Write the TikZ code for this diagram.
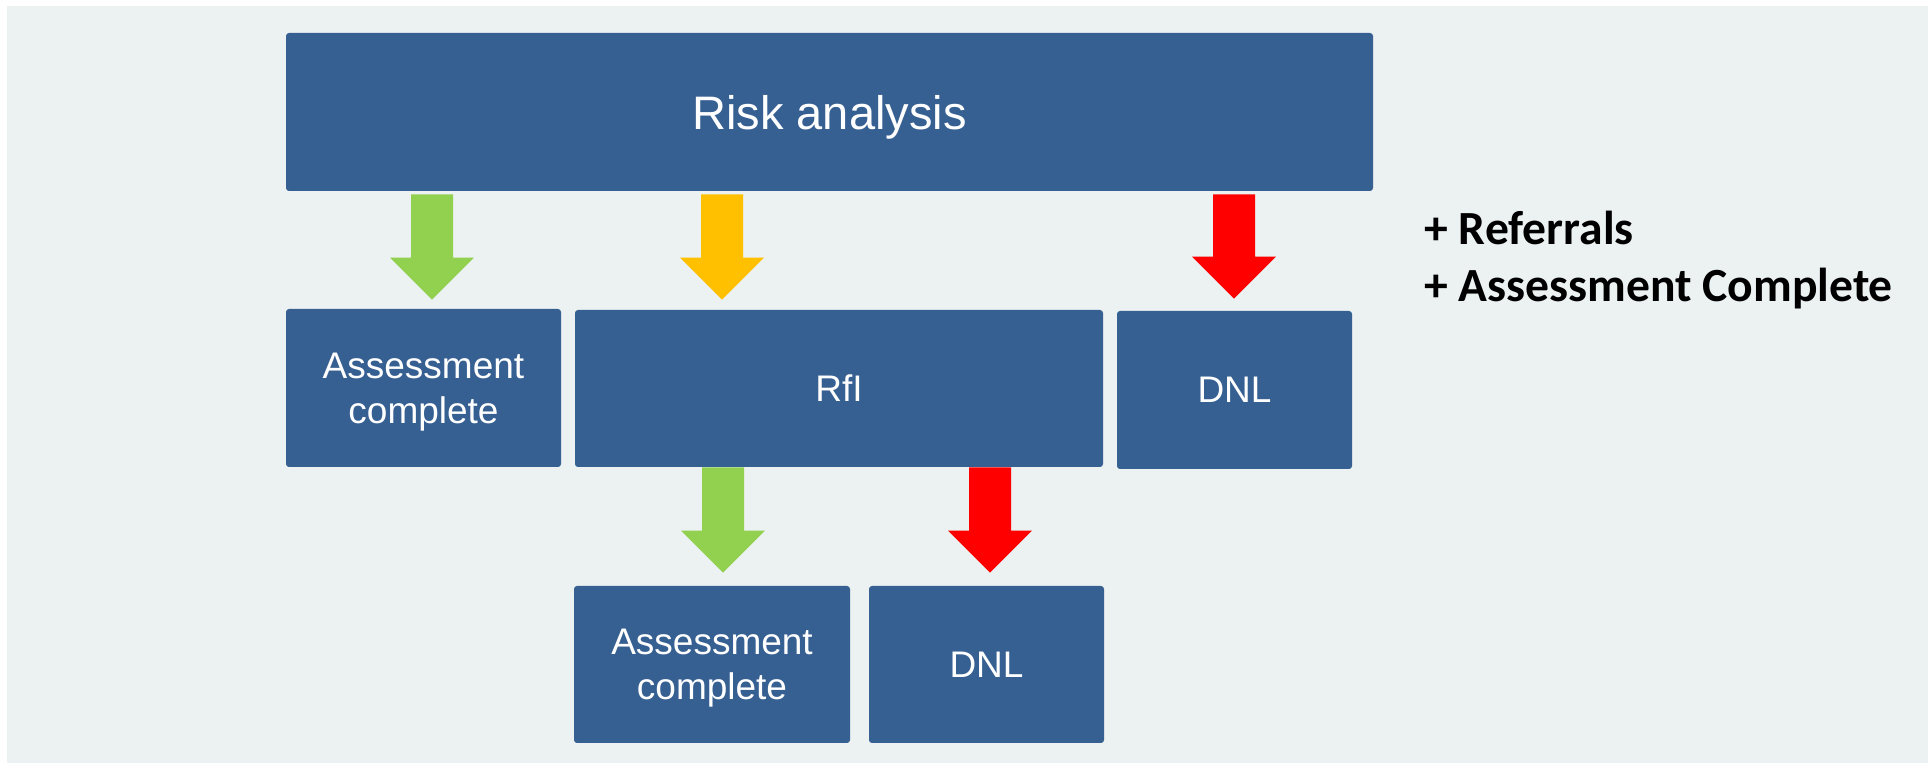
\documentclass[tikz,border=0pt]{standalone}
\usepackage{fontspec}
\setmainfont{Liberation Sans}
\newfontfamily\calibri{Carlito}
\usetikzlibrary{calc}
\definecolor{bg}{HTML}{ECF1F1}
\definecolor{boxblue}{HTML}{376092}
\definecolor{agreen}{HTML}{92D050}
\definecolor{ayellow}{HTML}{FFC000}
\definecolor{ared}{HTML}{FF0000}
\tikzset{
  boxnode/.style={fill=boxblue, rounded corners=1.5pt, inner sep=0pt, text=white,
    align=center, text depth=0pt, font=\fontsize{18.5}{22.5}\selectfont},
  sidetext/.style={anchor=base west, inner sep=0pt, text=black,
    font=\calibri\bfseries\fontsize{23.8}{28}\selectfont}
}
% colour, x-coordinate, from node, to node, start offset, tip gap
\newcommand\fatarrow[6]{%
  \fill[#1] ($(#3.south -| #2)+(-21,#5)$) -- ($(#3.south -| #2)+(21,#5)$)
    -- ($(#4.north -| #2)+(21,-#6-42)$) -- ($(#4.north -| #2)+(42,-#6-42)$)
    -- ($(#4.north -| #2)+(0,-#6)$) -- ($(#4.north -| #2)+(-42,-#6-42)$)
    -- ($(#4.north -| #2)+(-21,-#6-42)$) -- cycle;}
\begin{document}
\begin{tikzpicture}[x=0.5pt,y=-0.5pt]
\useasboundingbox (0,0) rectangle (1928,763);
\fill[white] (0,0) rectangle (1928,763);
\fill[bg] (7,6) rectangle (1928,763);

\node[boxnode, minimum width=543.5pt, minimum height=79pt, font=\fontsize{23.5}{28}\selectfont]
  (risk) at (829.5,112) {Risk analysis};
\node[boxnode, minimum width=137.5pt, minimum height=79pt] (ac1) at (423.5,388) {Assessment\\complete};
\node[boxnode, minimum width=264pt, minimum height=78.5pt] (rfi) at (839,388.5) {RfI};
\node[boxnode, minimum width=117.5pt, minimum height=79pt] (dnl1) at (1234.5,390) {DNL};
\node[boxnode, minimum width=138pt, minimum height=78.5pt] (ac2) at (712,664.5) {Assessment\\complete};
\node[boxnode, minimum width=117.5pt, minimum height=78.5pt] (dnl2) at (986.5,664.5) {DNL};

\coordinate (xg1) at (432,0);
\coordinate (xy1) at (722,0);
\coordinate (xr1) at (1234,0);
\coordinate (xg2) at (723,0);
\coordinate (xr2) at (990,0);

\fatarrow{agreen}{xg1}{risk}{ac1}{3}{9}
\fatarrow{ayellow}{xy1}{risk}{rfi}{3}{10}
\fatarrow{ared}{xr1}{risk}{dnl1}{3}{12}
\fatarrow{agreen}{xg2}{rfi}{ac2}{0}{13}
\fatarrow{ared}{xr2}{rfi}{dnl2}{0}{13}

\node[sidetext] (ref) at (1424,245) {+ Referrals};
\node[sidetext] (acm) at (1424,302) {+ Assessment Complete};
\end{tikzpicture}
\end{document}
